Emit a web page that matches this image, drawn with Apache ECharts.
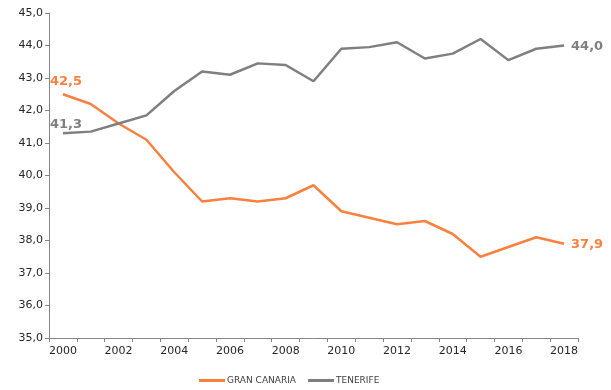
<!DOCTYPE html>
<html><head><meta charset="utf-8">
<script src="https://cdn.jsdelivr.net/npm/echarts@6/dist/echarts.min.js"></script>
<style>html,body{margin:0;padding:0;background:#fff}#c{width:611px;height:390px}</style>
</head><body><div id="c"></div>
<script>
const years = ['2000','2001','2002','2003','2004','2005','2006','2007','2008','2009','2010','2011','2012','2013','2014','2015','2016','2017','2018'];
const granCanaria = [42.5,42.2,41.6,41.1,40.1,39.2,39.3,39.2,39.3,39.7,38.9,38.7,38.5,38.6,38.2,37.5,37.8,38.1,37.9];
const tenerife = [41.3,41.35,41.6,41.85,42.6,43.2,43.1,43.45,43.4,42.9,43.9,43.95,44.1,43.6,43.75,44.2,43.55,43.9,44.0];
const seriesNames = ['GRAN CANARIA','TENERIFE'];
const colors = ['#F8813F','#7F7F7F'];
const fmt = v => v.toFixed(1).replace('.', ',');
const font = 'Verdana, "DejaVu Sans", sans-serif';

function endLabels(data, color, firstOffset) {
  return data.map((v, i) => {
    if (i === 0) return {value: v, label: {show: true, position: 'top', offset: firstOffset, formatter: p => fmt(p.value), color: color, fontWeight: 'bold', fontSize: 13, fontFamily: font}};
    if (i === data.length - 1) return {value: v, label: {show: true, position: 'right', distance: 7, offset: [0, 1], formatter: p => fmt(p.value), color: color, fontWeight: 'bold', fontSize: 13, fontFamily: font}};
    return v;
  });
}

const chart = echarts.init(document.getElementById('c'));
chart.setOption({
  animation: false,
  grid: {left: 49, right: 33, top: 13, bottom: 52},
  legend: {
    bottom: 0, left: 194, itemWidth: 26, itemHeight: 3, itemGap: 12,
    icon: 'rect',
    textStyle: {fontSize: 9, color: '#404040', fontFamily: font, padding: [0,0,0,-3]},
    data: seriesNames
  },
  xAxis: {
    type: 'category', data: years, boundaryGap: true,
    axisLine: {lineStyle: {color: '#868686', width: 1}},
    axisTick: {show: true, interval: 0, length: 4, lineStyle: {color: '#868686'}},
    axisLabel: {interval: 1, color: '#262626', fontSize: 11, fontFamily: font, margin: 8}
  },
  yAxis: {
    type: 'value', min: 35, max: 45, interval: 1,
    splitLine: {show: false},
    axisLine: {show: true, lineStyle: {color: '#868686', width: 1}},
    axisTick: {show: true, length: 4, lineStyle: {color: '#868686'}},
    axisLabel: {color: '#262626', fontSize: 11, fontFamily: font, margin: 6, formatter: v => fmt(v)}
  },
  series: [
    {name: seriesNames[0], type: 'line', data: endLabels(granCanaria, colors[0], [3, -1]), color: colors[0], symbol: 'circle', symbolSize: 0, showSymbol: true, lineStyle: {width: 2.5, color: colors[0]}},
    {name: seriesNames[1], type: 'line', data: endLabels(tenerife, colors[1], [3, 3]), color: colors[1], symbol: 'circle', symbolSize: 0, showSymbol: true, lineStyle: {width: 2.5, color: colors[1]}}
  ]
});
</script></body></html>
